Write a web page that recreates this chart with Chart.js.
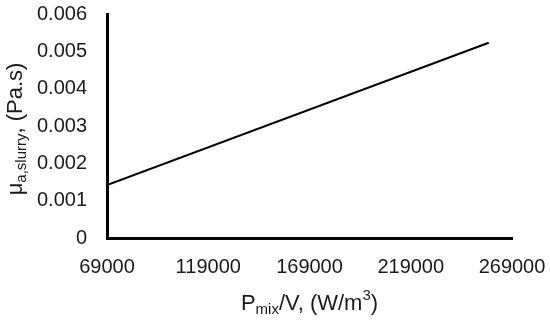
<!DOCTYPE html>
<html>
<head>
<meta charset="utf-8">
<script src="https://cdn.jsdelivr.net/npm/chart.js@4/dist/chart.umd.min.js"></script>
<style>
  html, body { margin: 0; padding: 0; background: #fff; }
  #wrap { width: 550px; height: 324px; position: relative; }
</style>
</head>
<body>
<div id="wrap"><canvas id="chart"></canvas></div>
<script>
// --- Data ---
const powerPerVolume = [69000, 257500];     // Pmix/V (W/m3)
const viscosity = [0.00142, 0.00523];       // apparent slurry viscosity (Pa.s)
const xTicks = [69000, 119000, 169000, 219000, 269000];
const yTicks = [0, 0.001, 0.002, 0.003, 0.004, 0.005, 0.006];

const FONT = '"Liberation Sans", Arial, sans-serif';
const TEXT = '#1a1a1a';

// draw a title made of pieces: [text, 'n'|'sub'|'sup']
function drawPieces(ctx, pieces, size) {
    const subSize = Math.round(size * 0.7);
    let total = 0;
    pieces.forEach(p => {
        ctx.font = (p[1] === 'n' ? size : subSize) + 'px ' + FONT;
        total += ctx.measureText(p[0]).width;
    });
    let x = -total / 2;
    pieces.forEach(p => {
        const s = p[1] === 'n' ? size : subSize;
        ctx.font = s + 'px ' + FONT;
        let dy = 0;
        if (p[1] === 'sub') dy = size * 0.28;
        if (p[1] === 'sup') dy = -size * 0.38;
        ctx.fillText(p[0], x, dy);
        x += ctx.measureText(p[0]).width;
    });
}

// --- Axis titles with subscripts ---
const axisTitles = {
    id: 'axisTitles',
    afterDraw(chart) {
        const ctx = chart.ctx;
        const area = chart.chartArea;
        ctx.save();
        ctx.fillStyle = TEXT;
        ctx.textAlign = 'left';
        ctx.textBaseline = 'middle';
        ctx.translate((area.left + area.right) / 2, 304);
        drawPieces(ctx, [['P', 'n'], ['mix', 'sub'], ['/V, (W/m', 'n'], ['3', 'sup'], [')', 'n']], 22);
        ctx.restore();

        ctx.save();
        ctx.fillStyle = TEXT;
        ctx.textAlign = 'left';
        ctx.textBaseline = 'middle';
        ctx.translate(16, 129);
        ctx.rotate(-Math.PI / 2);
        drawPieces(ctx, [['μ', 'n'], ['a,slurry', 'sub'], [', (Pa.s)', 'n']], 22);
        ctx.restore();
    }
};

new Chart(document.getElementById('chart'), {
    type: 'line',
    data: {
        datasets: [{
            data: powerPerVolume.map((x, i) => ({ x: x, y: viscosity[i] })),
            borderColor: '#000',
            borderWidth: 2,
            pointRadius: 0,
            fill: false,
            tension: 0
        }]
    },
    options: {
        responsive: true,
        maintainAspectRatio: false,
        animation: false,
        layout: { padding: { left: 0, right: 38, top: 14, bottom: 0 } },
        plugins: {
            legend: { display: false },
            tooltip: { enabled: false }
        },
        scales: {
            x: {
                type: 'linear',
                min: xTicks[0],
                max: xTicks[xTicks.length - 1],
                afterBuildTicks: s => { s.ticks = xTicks.map(v => ({ value: v })); },
                afterFit: s => { s.height = 86; s.paddingLeft = 0; s.paddingRight = 0; },
                grid: { display: false, drawTicks: false },
                border: { display: true, color: '#000', width: 3 },
                ticks: {
                    color: TEXT,
                    font: { family: FONT, size: 20 },
                    padding: 17,
                    maxRotation: 0,
                    callback: v => String(v)
                }
            },
            y: {
                type: 'linear',
                min: yTicks[0],
                max: yTicks[yTicks.length - 1],
                afterBuildTicks: s => { s.ticks = yTicks.map(v => ({ value: v })); },
                afterFit: s => { s.width = 107; s.paddingTop = 0; s.paddingBottom = 0; },
                grid: { display: false, drawTicks: false },
                border: { display: true, color: '#000', width: 3 },
                ticks: {
                    color: TEXT,
                    font: { family: FONT, size: 20 },
                    padding: 20,
                    callback: v => v === 0 ? '0' : v.toFixed(3)
                }
            }
        }
    },
    plugins: [axisTitles]
});
</script>
</body>
</html>
